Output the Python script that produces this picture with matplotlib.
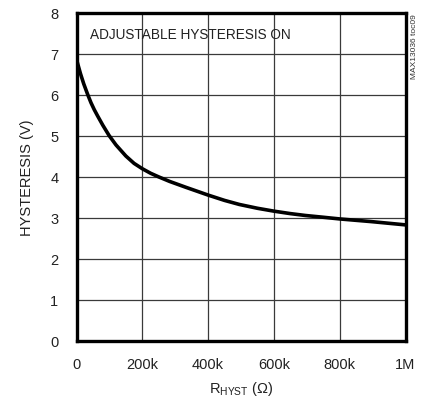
import matplotlib.pyplot as plt
from matplotlib.ticker import FixedLocator

# curve
r_hyst = [0, 4e3, 12e3, 22e3, 34e3, 44e3, 54e3, 64e3, 80e3, 99e3, 120e3, 150e3,
          175e3, 200e3, 225e3, 250e3, 283e3, 333e3, 374e3, 400e3, 450e3,
          495e3, 550e3, 600e3, 650e3, 696e3, 750e3, 800e3, 896e3, 1000e3]
hyst = [6.86, 6.74, 6.51, 6.26, 6.0, 5.8, 5.63, 5.48, 5.25, 5.0, 4.77, 4.5,
        4.32, 4.19, 4.08, 3.99, 3.88, 3.735, 3.62, 3.547, 3.417,
        3.318, 3.225, 3.155, 3.095, 3.049, 3.006, 2.965, 2.9, 2.82]

x_ticks = [0, 200e3, 400e3, 600e3, 800e3, 1000e3]
x_labels = ['0', '200k', '400k', '600k', '800k', '1M']
y_ticks = [0, 1, 2, 3, 4, 5, 6, 7, 8]

plt.rcParams['font.family'] = ['Liberation Sans', 'DejaVu Sans']
plt.rcParams['mathtext.fontset'] = 'custom'
plt.rcParams['mathtext.rm'] = 'Liberation Sans'

fig = plt.figure(figsize=(4.24, 4.02), dpi=100)
ax = fig.add_axes([76.5 / 424, 1 - 341.5 / 402, 329 / 424, 328 / 402])

ax.plot(r_hyst, hyst, color='black', lw=2.6, solid_capstyle='butt',
        solid_joinstyle='round')

ax.set_xlim(0, 1000e3)
ax.set_ylim(0, 8)
ax.xaxis.set_major_locator(FixedLocator(x_ticks))
ax.set_xticklabels(x_labels)
ax.yaxis.set_major_locator(FixedLocator(y_ticks))
ax.tick_params(length=0, labelsize=10.5, colors='#222222')
ax.tick_params(axis='y', pad=13)
ax.tick_params(axis='x', pad=12)
ax.grid(True, color='#3a3a3a', lw=0.9)
for s in ax.spines.values():
    s.set_linewidth(2.4)
    s.set_color('black')

ax.set_xlabel(r'R$_{\mathregular{HYST}}$ ($\Omega$)', fontsize=10.5, color='#222222', labelpad=6)
ax.set_ylabel('HYSTERESIS (V)', fontsize=10.5, color='#222222', labelpad=12)

ax.text(0.04, 0.935, 'ADJUSTABLE HYSTERESIS ON', transform=ax.transAxes,
        fontsize=9.8, color='#222222', va='center', ha='left')
fig.text(414 / 424, 1 - 14 / 402, 'MAX13036 toc09', rotation=90, fontsize=6,
         color='#333333', ha='center', va='top')

fig.savefig('out.png', dpi=100)
